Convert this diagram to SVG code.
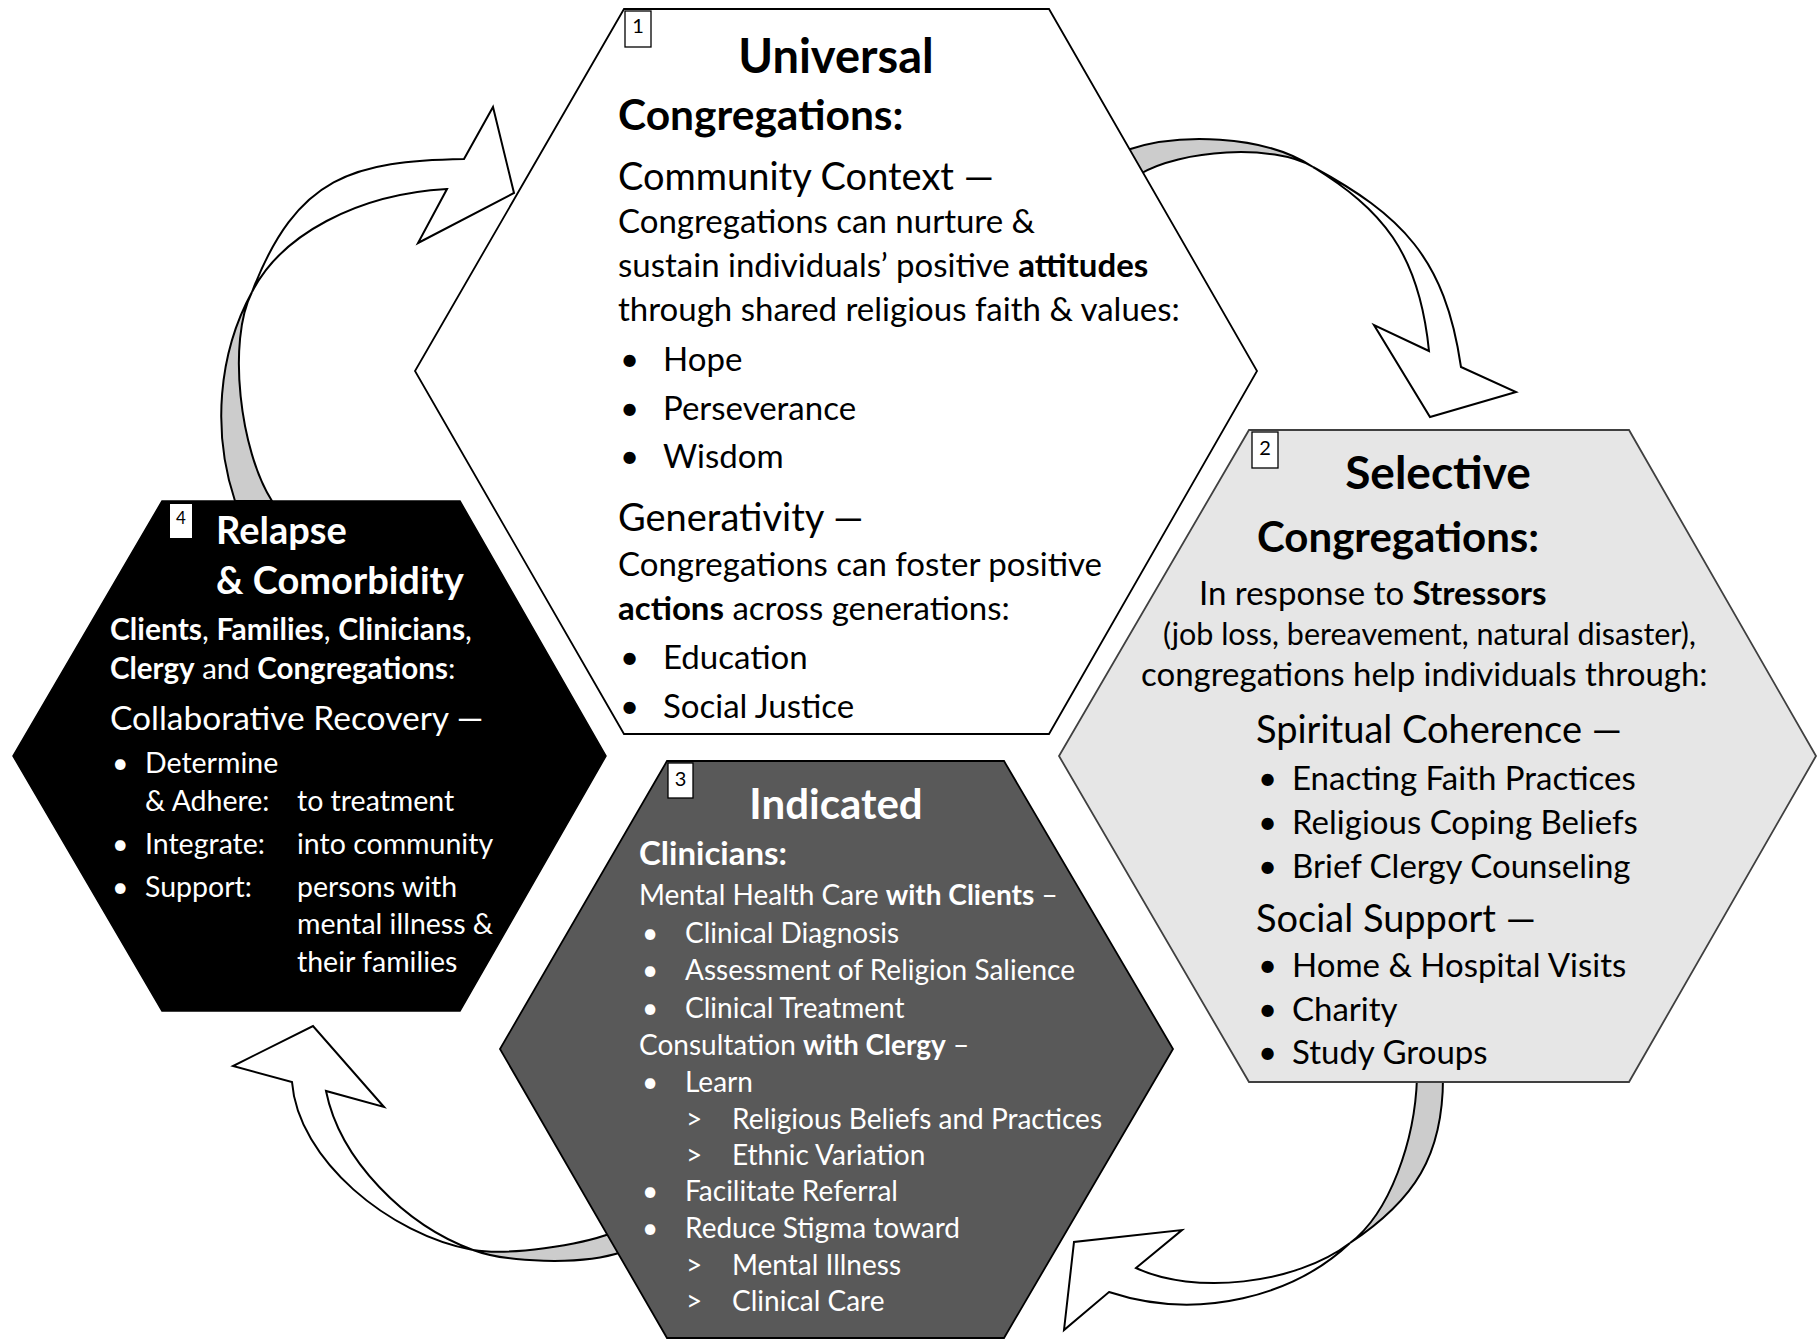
<svg xmlns="http://www.w3.org/2000/svg" width="1818" height="1339" viewBox="0 0 1818 1339">
<style>
text{font-family:Lato,"Open Sans",sans-serif;}
.b{font-weight:bold;}
.w{fill:#ffffff;}
.arW{fill:#ffffff;stroke:#000;stroke-width:2;stroke-linejoin:miter;}
.arG{fill:#cccccc;stroke:#000;stroke-width:2;}
.num{fill:#fff;stroke:#000;stroke-width:1.3;}
.nt{font-size:20px;fill:#000;}
.t1{font-size:33px;}
.t2{font-size:33px;}
.t3{font-size:28px;}
.t4{font-size:28.5px;}
</style>
<rect width="1818" height="1339" fill="#ffffff"/>
<g id="connectors">
  <g id="arrow-1-2">
    <path class="arG" d="M1127 150 C1177 133 1263 134 1313 167 C1273 143 1180 150 1140 174 Z"/>
    <path class="arW" d="M1313 167 C1401 215 1445 257 1461 367 L1516 392 L1430 417 L1374 325 L1429 351 C1419 251 1381 209 1313 167 Z"/>
  </g>
  <g id="arrow-2-3">
    <path class="arG" d="M1417 1078 C1415 1140 1390 1213 1350 1243 C1415 1200 1443 1155 1443 1078 Z"/>
    <path class="arW" d="M1350 1243 C1295 1295 1200 1322 1109 1292 L1064 1330 L1074 1242 L1182 1230 L1136 1268 C1193 1295 1295 1285 1350 1243 Z"/>
  </g>
  <g id="arrow-3-4">
    <path class="arG" d="M612 1233 C580 1245 510 1256 473 1250 C505 1262 580 1266 622 1252 Z"/>
    <path class="arW" d="M473 1250 C390 1235 298 1160 292 1082 L233 1066 L313 1026 L384 1107 L326 1091 C340 1160 405 1225 473 1250 Z"/>
  </g>
  <g id="arrow-4-1">
    <path class="arG" d="M235 501 C212 432 218 354 252 292 C227 341 240 451 272 501 Z"/>
    <path class="arW" d="M252 292 C297 175 354 161 464 159 L493 107 L514 193 L418 243 L447 189 C357 194 281 235 252 292 Z"/>
  </g>
</g>

<g id="node1">
  <polygon points="624,9 1049,9 1257,371 1049,734 624,734 415,371" fill="#ffffff" stroke="#000" stroke-width="1.8"/>
  <rect class="num" x="625" y="11" width="26" height="36"/>
  <text class="nt" x="638" y="33" text-anchor="middle">1</text>
  <text class="b" x="836" y="73" font-size="47" text-anchor="middle">Universal</text>
  <text class="b" x="618" y="130" font-size="42.5">Congregations:</text>
  <text x="618" y="190" font-size="38">Community Context —</text>
  <text class="t1" x="618" y="233">Congregations can nurture &amp;</text>
  <text class="t1" x="618" y="277">sustain individuals’ positive <tspan class="b">attitudes</tspan></text>
  <text class="t1" x="618" y="321">through shared religious faith &amp; values:</text>
  <text class="t1" x="620" y="371">•</text><text class="t1" x="663" y="371">Hope</text>
  <text class="t1" x="620" y="420">•</text><text class="t1" x="663" y="420">Perseverance</text>
  <text class="t1" x="620" y="468">•</text><text class="t1" x="663" y="468">Wisdom</text>
  <text x="618" y="531" font-size="38">Generativity —</text>
  <text class="t1" x="618" y="576">Congregations can foster positive</text>
  <text class="t1" x="618" y="620"><tspan class="b">actions</tspan> across generations:</text>
  <text class="t1" x="620" y="669">•</text><text class="t1" x="663" y="669">Education</text>
  <text class="t1" x="620" y="718">•</text><text class="t1" x="663" y="718">Social Justice</text>
</g>

<g id="node2">
  <polygon points="1249,430 1629,430 1816,756 1629,1082 1249,1082 1059,756" fill="#e6e6e6" stroke="#404040" stroke-width="1.8"/>
  <rect class="num" x="1252" y="432" width="26" height="36"/>
  <text class="nt" x="1265" y="455" text-anchor="middle">2</text>
  <text class="b" x="1438" y="489" font-size="46" text-anchor="middle">Selective</text>
  <text class="b" x="1257" y="552" font-size="42">Congregations:</text>
  <text x="1199" y="605" font-size="33">In response to <tspan class="b">Stressors</tspan></text>
  <text x="1163" y="645" font-size="30.5">(job loss, bereavement, natural disaster),</text>
  <text x="1141" y="686" font-size="33">congregations help individuals through:</text>
  <text x="1256" y="743" font-size="38">Spiritual Coherence —</text>
  <text class="t2" x="1258" y="790">•</text><text class="t2" x="1292" y="790">Enacting Faith Practices</text>
  <text class="t2" x="1258" y="834">•</text><text class="t2" x="1292" y="834">Religious Coping Beliefs</text>
  <text class="t2" x="1258" y="878">•</text><text class="t2" x="1292" y="878">Brief Clergy Counseling</text>
  <text x="1256" y="932" font-size="38">Social Support —</text>
  <text class="t2" x="1258" y="977">•</text><text class="t2" x="1292" y="977">Home &amp; Hospital Visits</text>
  <text class="t2" x="1258" y="1021">•</text><text class="t2" x="1292" y="1021">Charity</text>
  <text class="t2" x="1258" y="1064">•</text><text class="t2" x="1292" y="1064">Study Groups</text>
</g>

<g id="node3">
  <polygon points="667,761 1004,761 1173,1049 1004,1338 667,1338 500,1049" fill="#595959" stroke="#000" stroke-width="1.8"/>
  <rect class="num" x="668" y="763" width="25" height="35"/>
  <text class="nt" x="680.5" y="786" text-anchor="middle">3</text>
  <g class="w">
  <text class="b" x="836" y="819" font-size="42" text-anchor="middle">Indicated</text>
  <text class="b" x="639" y="865" font-size="33">Clinicians:</text>
  <text class="t3" x="639" y="905">Mental Health Care <tspan class="b">with Clients</tspan> –</text>
  <text class="t3" x="642" y="943">•</text><text class="t3" x="685" y="943">Clinical Diagnosis</text>
  <text class="t3" x="642" y="980">•</text><text class="t3" x="685" y="980">Assessment of Religion Salience</text>
  <text class="t3" x="642" y="1018">•</text><text class="t3" x="685" y="1018">Clinical Treatment</text>
  <text class="t3" x="639" y="1055">Consultation <tspan class="b">with Clergy</tspan> –</text>
  <text class="t3" x="642" y="1092">•</text><text class="t3" x="685" y="1092">Learn</text>
  <text class="t3" x="686" y="1129">&gt;</text><text class="t3" x="732" y="1129">Religious Beliefs and Practices</text>
  <text class="t3" x="686" y="1165">&gt;</text><text class="t3" x="732" y="1165">Ethnic Variation</text>
  <text class="t3" x="642" y="1201">•</text><text class="t3" x="685" y="1201">Facilitate Referral</text>
  <text class="t3" x="642" y="1238">•</text><text class="t3" x="685" y="1238">Reduce Stigma toward</text>
  <text class="t3" x="686" y="1275">&gt;</text><text class="t3" x="732" y="1275">Mental Illness</text>
  <text class="t3" x="686" y="1311">&gt;</text><text class="t3" x="732" y="1311">Clinical Care</text>
  </g>
</g>

<g id="node4">
  <polygon points="162,501 460,501 606,756 460,1011 162,1011 13,756" fill="#000000" stroke="#000" stroke-width="1.5"/>
  <rect x="170" y="504" width="22" height="34" fill="#fff"/>
  <text x="181" y="524" font-size="17" text-anchor="middle" fill="#000">4</text>
  <g class="w">
  <text class="b" x="216" y="544" font-size="38">Relapse</text>
  <text class="b" x="216" y="594" font-size="38">&amp; Comorbidity</text>
  <text x="110" y="640" font-size="30"><tspan class="b">Clients</tspan>, <tspan class="b">Families</tspan>, <tspan class="b">Clinicians</tspan>,</text>
  <text x="110" y="679" font-size="29.5"><tspan class="b">Clergy</tspan> and <tspan class="b">Congregations</tspan>:</text>
  <text x="110" y="730" font-size="33.5">Collaborative Recovery —</text>
  <text class="t4" x="112" y="773">•</text><text class="t4" x="145" y="773">Determine</text>
  <text class="t4" x="145" y="811">&amp; Adhere:</text><text class="t4" x="297" y="811">to treatment</text>
  <text class="t4" x="112" y="854">•</text><text class="t4" x="145" y="854">Integrate:</text><text class="t4" x="297" y="854">into community</text>
  <text class="t4" x="112" y="897">•</text><text class="t4" x="145" y="897">Support:</text><text class="t4" x="297" y="897">persons with</text>
  <text class="t4" x="297" y="934">mental illness &amp;</text>
  <text class="t4" x="297" y="972">their families</text>
  </g>
</g>
</svg>
